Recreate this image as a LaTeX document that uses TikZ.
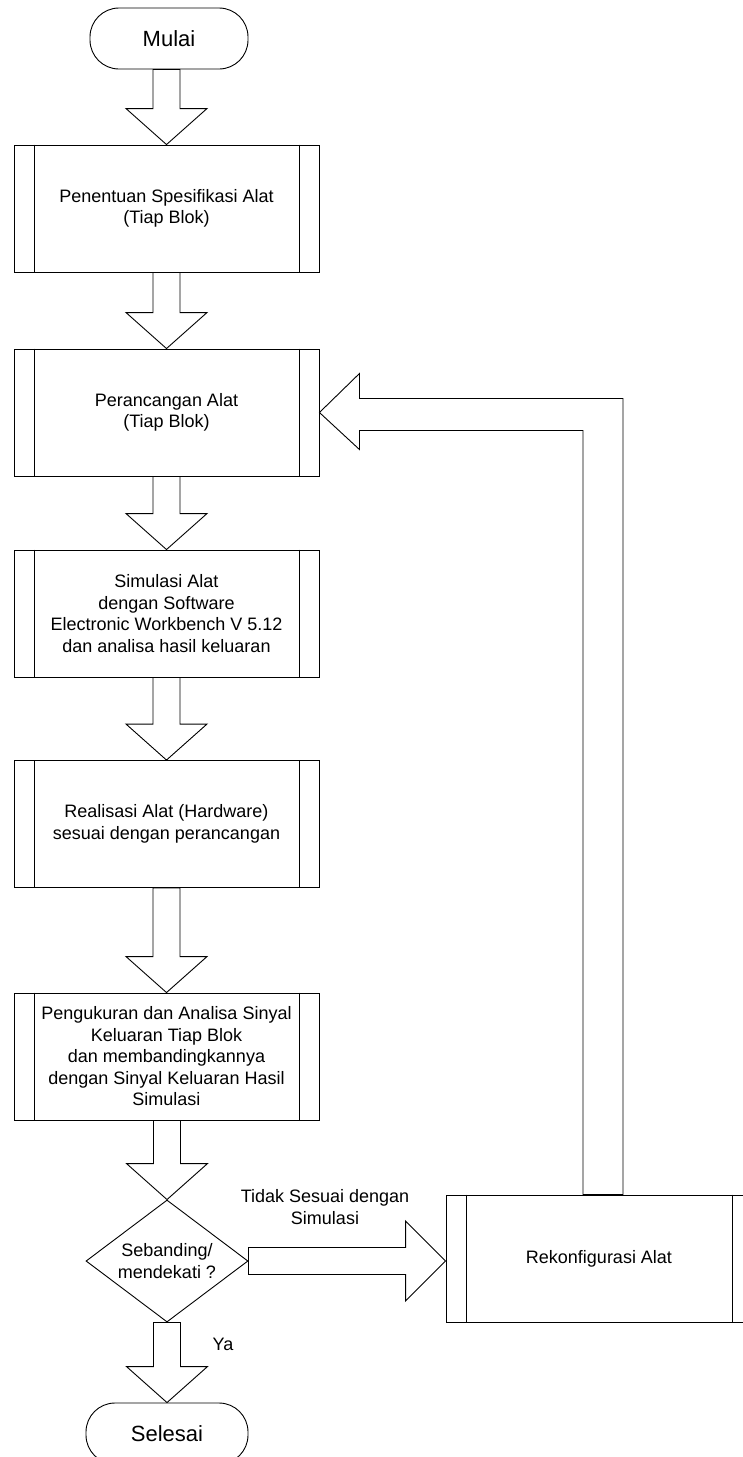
\documentclass[tikz,border=0pt]{standalone}
\usepackage{fontspec}
\setmainfont{Liberation Sans}
\usetikzlibrary{calc,shapes.geometric}

% block arrow pointing down, from the bottom of #1 to the top of #2
\newcommand{\fatdown}[2]{%
  \draw let \p1 = (#1.south), \p2 = (#2.north) in
    (\x2-13.5pt,\y1) -- (\x2-13.5pt,\y2+36pt) -- (\x2-40.5pt,\y2+36pt) -- (\x2,\y2)
    -- (\x2+40.5pt,\y2+36pt) -- (\x2+13.5pt,\y2+36pt) -- (\x2+13.5pt,\y1) -- cycle;}

% block arrow pointing right, from the right of #1 to the left of #2
\newcommand{\fatright}[2]{%
  \draw let \p1 = (#1.east), \p2 = (#2.west) in
    (\x1,\y1+13.5pt) -- (\x2-40pt,\y1+13.5pt) -- (\x2-40pt,\y1+40pt) -- (\x2,\y1)
    -- (\x2-40pt,\y1-40pt) -- (\x2-40pt,\y1-13.5pt) -- (\x1,\y1-13.5pt) -- cycle;}

\begin{document}
\begin{tikzpicture}[x=1pt, y=-1pt, line width=0.9pt,
    every node/.style={font=\fontsize{18}{21.5}\selectfont},
    process/.style={draw, rectangle, minimum width=305pt, minimum height=127pt, align=center},
    terminal/.style={draw, rectangle, rounded corners=29pt, minimum height=61pt,
        font=\fontsize{22}{26}\selectfont},
    decision/.style={draw, diamond, aspect=1.33, inner sep=0pt, minimum width=162pt,
        minimum height=122pt, align=center}]
    \useasboundingbox (0,0) rectangle (743,1457);

    \node[terminal, minimum width=158pt] (mulai) at (169, 38.5) {Mulai};
    \node[process] (spek) at (166.5, 208.5) {Penentuan Spesifikasi Alat\\(Tiap Blok)};
    \node[process] (rancang) at (166.5, 412.5) {Perancangan Alat\\(Tiap Blok)};
    \node[process] (simulasi) at (166.5, 613.5) {Simulasi Alat\\dengan Software\\Electronic Workbench V 5.12\\dan analisa hasil keluaran};
    \node[process] (realisasi) at (166.5, 824) {Realisasi Alat (Hardware)\\sesuai dengan perancangan};
    \node[process] (ukur) at (166.5, 1056.5) {Pengukuran dan Analisa Sinyal\\Keluaran Tiap Blok\\dan membandingkannya\\dengan Sinyal Keluaran Hasil\\Simulasi};
    \node[decision] (banding) at (167, 1261) {Sebanding/\\mendekati ?};
    \node[terminal, minimum width=162pt] (selesai) at (167, 1433.5) {Selesai};
    \node[process, minimum width=306pt] (rekonf) at (599, 1258.5) {Rekonfigurasi Alat};

    \node[align=center] (tidak) at (325, 1207) {Tidak Sesuai dengan\\Simulasi};
    \node (ya) at (223, 1344) {Ya};

    % double side lines of the process boxes
    \foreach \n in {spek, rancang, simulasi, realisasi, ukur, rekonf}
        \draw ([xshift=21pt]\n.north west) -- ([xshift=21pt]\n.south west)
              ([xshift=-20pt]\n.north east) -- ([xshift=-20pt]\n.south east);

    \fatdown{mulai}{spek}
    \fatdown{spek}{rancang}
    \fatdown{rancang}{simulasi}
    \fatdown{simulasi}{realisasi}
    \fatdown{realisasi}{ukur}
    \fatdown{ukur}{banding}
    \fatdown{banding}{selesai}
    \fatright{banding}{rekonf}

    % feedback arrow back to the design step
    \draw let \p1 = (rekonf.north), \p2 = (rancang.east) in
        (\x1-16pt,\y1) -- (\x1-16pt,\y2-18pt) -- (\x2+40pt,\y2-18pt) -- (\x2+40pt,\y2-37pt)
        -- (\x2,\y2) -- (\x2+40pt,\y2+39pt) -- (\x2+40pt,\y2+14pt) -- (\x1+24pt,\y2+14pt)
        -- (\x1+24pt,\y1) -- cycle;
\end{tikzpicture}
\end{document}
